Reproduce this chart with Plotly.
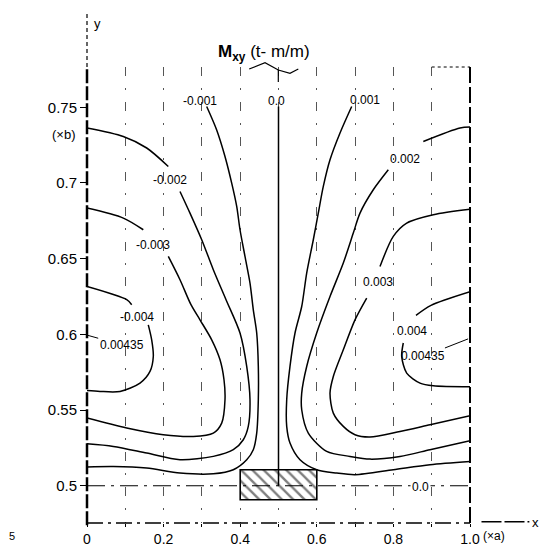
import plotly.graph_objects as go

# ---- contour lines (x in units of a, y in units of b) ----
# value -0.001
m001_x = [0.3125, 0.3386, 0.3603, 0.3778, 0.3909, 0.3995, 0.4125, 0.4256, 0.4342, 0.4431, 0.4473,
          0.4473, 0.4431, 0.4342, 0.417, 0.382, 0.3298, 0.2428, 0.1559, 0.0687, 0.0]
m001_y = [0.7505, 0.735, 0.7175, 0.6999, 0.6845, 0.6691, 0.6515, 0.6339, 0.6162, 0.6009, 0.5788,
          0.5568, 0.5348, 0.5238, 0.5172, 0.5106, 0.5079, 0.5084, 0.5117, 0.5127, 0.5124]
# value -0.002 (upper piece / lower piece, split at its label)
m002a_x = [0.0, 0.0948, 0.1559, 0.2123]
m002a_y = [0.7363, 0.7307, 0.7231, 0.7109]
m002b_x = [0.2428, 0.2689, 0.2995, 0.3298, 0.3630, 0.3995, 0.417, 0.4256, 0.4211, 0.4081, 0.382,
           0.3298, 0.2428, 0.1559, 0.0687, 0.0]
m002b_y = [0.6944, 0.6801, 0.6625, 0.6427, 0.6229, 0.6009, 0.5788, 0.5568, 0.5392, 0.5304, 0.5238,
           0.5194, 0.5172, 0.5216, 0.526, 0.5277]
# value -0.003
m003a_x = [0.0, 0.0948, 0.147]
m003a_y = [0.6834, 0.6768, 0.6691]
m003b_x = [0.2123, 0.2428, 0.2715, 0.295, 0.3256, 0.3473, 0.3577, 0.3603, 0.3517, 0.3298, 0.2775,
           0.1992, 0.1037, 0.0]
m003b_y = [0.6515, 0.6361, 0.6196, 0.6096, 0.5964, 0.5832, 0.57, 0.5568, 0.5414, 0.5348, 0.5326,
           0.5337, 0.5381, 0.5447]
# value -0.004
m004a_x = [0.0, 0.1037, 0.1167]
m004a_y = [0.6316, 0.6229, 0.6196]
m004b_x = [0.16, 0.1689, 0.1731, 0.1645, 0.1384, 0.0862, 0.034, 0.0]
m004b_y = [0.6063, 0.5964, 0.5854, 0.5755, 0.5678, 0.5623, 0.5623, 0.5629]
# value 0.0 (symmetry lines)
z_v_x = [0.5, 0.5]
z_v_y = [0.5, 0.7505]
z_h_x = [0.0, 1.0]
z_h_y = [0.5, 0.5]
# value 0.001
p001_x = [0.6911, 0.6606, 0.6345, 0.617, 0.6039, 0.5909, 0.5736, 0.5606, 0.5431, 0.53, 0.5214,
          0.5214, 0.53, 0.5561, 0.5997, 0.652, 0.6997, 0.7997, 0.8956, 1.0]
p001_y = [0.7505, 0.733, 0.7153, 0.6977, 0.6801, 0.6625, 0.6405, 0.6184, 0.6009, 0.5788, 0.5568,
          0.5392, 0.5282, 0.5172, 0.5106, 0.5084, 0.5073, 0.5106, 0.5139, 0.516]
# value 0.002
p002a_x = [1.0, 0.9739, 0.8781]
p002a_y = [0.7369, 0.7363, 0.7274]
p002b_x = [0.7867, 0.7475, 0.7128, 0.6953, 0.6692, 0.6345, 0.5997, 0.5736, 0.5606, 0.5606, 0.5778,
           0.6258, 0.6867, 0.7389, 0.8172, 0.8956, 1.0]
p002b_y = [0.7087, 0.6955, 0.6801, 0.6669, 0.6471, 0.625, 0.6009, 0.5788, 0.5612, 0.5502, 0.5348,
           0.5227, 0.5194, 0.5176, 0.5194, 0.5238, 0.5297]
# value 0.003
p003a_x = [1.0, 0.9042, 0.8347, 0.7997, 0.765]
p003a_y = [0.6826, 0.679, 0.6735, 0.6647, 0.6448]
p003b_x = [0.7303, 0.6997, 0.6692, 0.6431, 0.6345, 0.6431, 0.6692, 0.6997, 0.7389, 0.8172, 0.8956, 1.0]
p003b_y = [0.624, 0.6096, 0.5898, 0.5722, 0.5612, 0.548, 0.5392, 0.5337, 0.5322, 0.5359, 0.5403, 0.5462]
# value 0.004
p004a_x = [1.0, 0.8982, 0.859]
p004a_y = [0.6281, 0.6191, 0.6125]
p004b_x = [0.8258, 0.8217, 0.8347, 0.8695, 0.9042, 1.0]
p004b_y = [0.5943, 0.5854, 0.5744, 0.5678, 0.566, 0.5654]

# loaded patch (hatched box)
patch_x = [0.4, 0.6]
patch_y = [0.4908, 0.5106]

# contour labels
lab_text = ["-0.001", "0.0", "0.001", "-0.002", "-0.003", "-0.004", "0.002", "0.003", "0.004", "0.0"]
lab_x = [0.295, 0.496, 0.726, 0.2167, 0.1731, 0.1298, 0.8303, 0.7606, 0.8486, 0.8695]
lab_y = [0.7543, 0.7543, 0.755, 0.7021, 0.6592, 0.6118, 0.716, 0.6343, 0.6019, 0.4995]

# tick labels
x_ticks = [0.0, 0.2, 0.4, 0.6, 0.8, 1.0]
x_ticktext = ["0", "0.2", "0.4", "0.6", "0.8", "1.0"]
y_ticks = [0.5, 0.55, 0.6, 0.65, 0.7, 0.75]
y_ticktext = ["0.5", "0.55", "0.6", "0.65", "0.7", "0.75"]

FONT = "Liberation Sans, Arial, sans-serif"

fig = go.Figure()

# hatched patch
fig.add_trace(go.Bar(
    x=[(patch_x[0] + patch_x[1]) / 2], width=[patch_x[1] - patch_x[0]],
    base=[patch_y[0]], y=[patch_y[1] - patch_y[0]],
    marker=dict(color="white", line=dict(color="black", width=1.6),
                pattern=dict(shape="\\", fgcolor="black", bgcolor="white", size=8, solidity=0.3)),
    hoverinfo="skip", showlegend=False))

solid = [(m001_x, m001_y), (m002a_x, m002a_y), (m002b_x, m002b_y), (m003a_x, m003a_y),
         (m003b_x, m003b_y), (m004a_x, m004a_y), (m004b_x, m004b_y), (z_v_x, z_v_y),
         (p001_x, p001_y), (p002a_x, p002a_y), (p002b_x, p002b_y), (p003a_x, p003a_y),
         (p003b_x, p003b_y), (p004a_x, p004a_y), (p004b_x, p004b_y)]
for xs, ys in solid:
    fig.add_trace(go.Scatter(x=xs, y=ys, mode="lines", line=dict(color="black", width=1.5, shape="spline",
                                                                  smoothing=0.8),
                             hoverinfo="skip", showlegend=False, cliponaxis=False))

fig.add_trace(go.Scatter(x=z_h_x, y=z_h_y, mode="lines",
                         line=dict(color="black", width=1.2, dash="18px,6px,3px,6px"),
                         hoverinfo="skip", showlegend=False))

ann = []
for t, x, y in zip(lab_text, lab_x, lab_y):
    a = dict(x=x, y=y, xref="x", yref="y", text=t, showarrow=False,
             font=dict(family=FONT, size=12, color="black"))
    if t == "0.0" and y < 0.6:
        a["bgcolor"] = "white"
    ann.append(a)
# 0.00435 labels with pointers to the maxima on the edges
ann.append(dict(x=0.0, y=0.5995, xref="x", yref="y", ax=0.0906, ay=0.5931, axref="x", ayref="y",
                text="0.00435", showarrow=True, arrowhead=0, arrowwidth=1, arrowcolor="black",
                font=dict(family=FONT, size=12, color="black")))
ann.append(dict(x=0.995, y=0.597, xref="x", yref="y", ax=0.878, ay=0.5854, axref="x", ayref="y",
                text="0.00435", showarrow=True, arrowhead=0, arrowwidth=1, arrowcolor="black",
                font=dict(family=FONT, size=12, color="black")))
# title
ann.append(dict(x=0.461, y=1.059, xref="paper", yref="paper", showarrow=False,
                text="<b>M</b><sub><b>xy</b></sub> (t- m/m)",
                font=dict(family=FONT, size=17, color="black")))
# axis extras
ann.append(dict(x=0, y=0.75, xref="paper", yref="y", xanchor="right", xshift=-10, yshift=-27,
                text="(×b)", showarrow=False, font=dict(family=FONT, size=13, color="black")))
ann.append(dict(x=1.0, y=0, xref="paper", yref="paper", xanchor="left", yanchor="middle",
                xshift=11, yshift=-13,
                text="(×a)", showarrow=False, font=dict(family=FONT, size=12, color="black")))
ann.append(dict(x=1.0, y=0, xref="paper", yref="paper", xanchor="right", yanchor="middle",
                xshift=71, yshift=1,
                text="x", showarrow=False, font=dict(family=FONT, size=13, color="black")))
ann.append(dict(x=0, y=1.116, xref="paper", yref="paper", xanchor="left", xshift=5,
                text="y", showarrow=False, font=dict(family=FONT, size=13, color="black")))
ann.append(dict(x=0, y=0, xref="paper", yref="paper", xanchor="center", yanchor="middle",
                xshift=-75, yshift=-13,
                text="5", showarrow=False, font=dict(family=FONT, size=11, color="black")))

shapes = [
    # left border / y axis
    dict(type="line", xref="paper", yref="paper", x0=0, x1=0, y0=-0.005, y1=1.0,
         line=dict(color="black", width=2.5, dash="14px,3px")),
    dict(type="line", xref="paper", yref="paper", x0=0, x1=0, y0=1.0, y1=1.116,
         line=dict(color="black", width=1.2, dash="4px,3px")),
    # right border
    dict(type="line", xref="paper", yref="paper", x0=1, x1=1, y0=0, y1=1.0,
         line=dict(color="black", width=2, dash="16px,4px")),
    # bottom
    dict(type="line", xref="paper", yref="paper", x0=0, x1=1, y0=0, y1=0,
         line=dict(color="black", width=1.3, dash="16px,5px,3px,5px")),
    # top right dotted piece
    dict(type="line", xref="paper", yref="paper", x0=0.9, x1=1, y0=1.0, y1=1.0,
         line=dict(color="black", width=1, dash="dot")),
    # x-axis arrow line
    dict(type="line", xref="paper", yref="paper", x0=1.03, x1=1.155, y0=0.003, y1=0.003,
         line=dict(color="black", width=1.5, dash="20px,3px")),
    # break mark on top
    dict(type="path", xref="paper", yref="paper",
         path="M 0.4235 0.9956 L 0.4648 1.0094 L 0.4995 0.9934 L 0.5300 0.9861 L 0.5517 0.9956",
         line=dict(color="black", width=1.2)),
    dict(type="line", xref="paper", yref="paper", x0=0.4995, x1=0.4995, y0=0.9934, y1=0.967,
         line=dict(color="black", width=1.2)),
]

fig.update_layout(
    width=542, height=546,
    margin=dict(l=87, r=72, t=67, b=23, autoexpand=False),
    paper_bgcolor="white", plot_bgcolor="white",
    showlegend=False, annotations=ann, shapes=shapes,
    font=dict(family=FONT, color="black"),
    xaxis=dict(range=[0, 1.0], tickvals=x_ticks, ticktext=x_ticktext, ticks="outside", ticklen=3,
               tickcolor="black", showline=False, zeroline=False, automargin=False,
               showgrid=True, gridcolor="#555", gridwidth=1, griddash="9px,12px,2px,12px",
               minor=dict(dtick=0.1, tick0=0, ticks="outside", ticklen=3, tickcolor="black",
                          showgrid=True, gridcolor="#555", gridwidth=1, griddash="9px,12px,2px,12px"),
               tickfont=dict(family=FONT, size=14, color="black")),
    yaxis=dict(range=[0.4754, 0.7766], tickvals=y_ticks, ticktext=y_ticktext, ticks="outside", ticklen=6,
               tickcolor="black", showline=False, zeroline=False, showgrid=False, automargin=False,
               tickfont=dict(family=FONT, size=15, color="black")),
)

fig.write_html("out.html")
